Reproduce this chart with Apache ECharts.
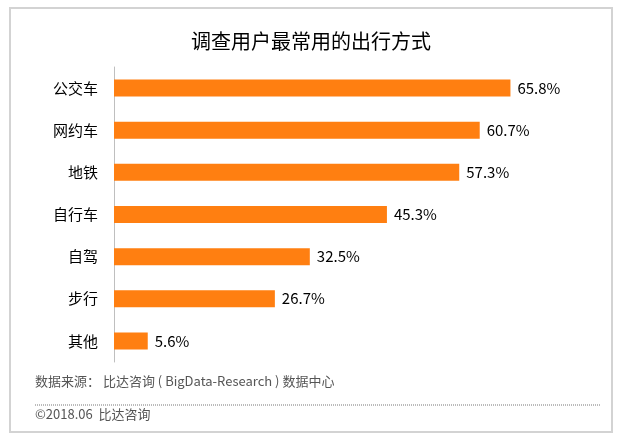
<!DOCTYPE html>
<html>
<head>
<meta charset="utf-8">
<script src="https://cdn.jsdelivr.net/npm/echarts@6/dist/echarts.min.js"></script>
<style>
    html, body { margin: 0; padding: 0; background: #fff; }
    #main { width: 622px; height: 442px; }
</style>
</head>
<body>
<div id="main"></div>
<script>
    // 出行方式（自上而下）
    var categories = ['公交车', '网约车', '地铁', '自行车', '自驾', '步行', '其他'];
    var shares = [65.8, 60.7, 57.3, 45.3, 32.5, 26.7, 5.6];

    var font = '"Noto Sans CJK SC", "Noto Sans", sans-serif';
    var myChart = echarts.init(document.getElementById('main'));
    var option = {
        backgroundColor: '#fff',
        title: {
            text: '调查用户最常用的出行方式',
            left: 'center',
            top: 26,
            textStyle: { fontFamily: font, fontSize: 20, fontWeight: 'normal', color: '#000' }
        },
        grid: { left: 114, right: 26, top: 67, bottom: 80 },
        xAxis: {
            type: 'value',
            min: 0,
            max: 80,
            show: false
        },
        yAxis: {
            type: 'category',
            inverse: true,
            data: categories,
            axisLine: { show: true, lineStyle: { color: '#bfbfbf', width: 1 } },
            axisTick: { show: false },
            axisLabel: { margin: 16, fontFamily: font, fontSize: 15, color: '#000' }
        },
        series: [
            {
                type: 'bar',
                data: shares,
                barWidth: 17,
                itemStyle: { color: '#ff7f11' },
                label: {
                    show: true,
                    position: 'right',
                    distance: 7,
                    fontFamily: font,
                    fontSize: 15,
                    color: '#000',
                    formatter: function (p) { return p.value.toFixed(1) + '%'; }
                }
            }
        ],
        graphic: [
            {
                type: 'rect',
                shape: { x: 10, y: 8, width: 602, height: 424 },
                style: { fill: 'none', stroke: '#d3d3d3', lineWidth: 2 },
                silent: true
            },
            {
                type: 'text',
                left: 35, top: 375,
                style: { text: '数据来源： 比达咨询 ( BigData-Research ) 数据中心', font: '13px ' + font, fill: '#555' }
            },
            {
                type: 'line',
                shape: { x1: 35, y1: 405, x2: 600, y2: 405 },
                style: { stroke: '#777', lineWidth: 1, lineDash: [1, 1] }
            },
            {
                type: 'text',
                left: 35, top: 408,
                style: { text: '©2018.06  比达咨询', font: '13px ' + font, fill: '#555' }
            }
        ]
    };
    myChart.setOption(option);
</script>
</body>
</html>
